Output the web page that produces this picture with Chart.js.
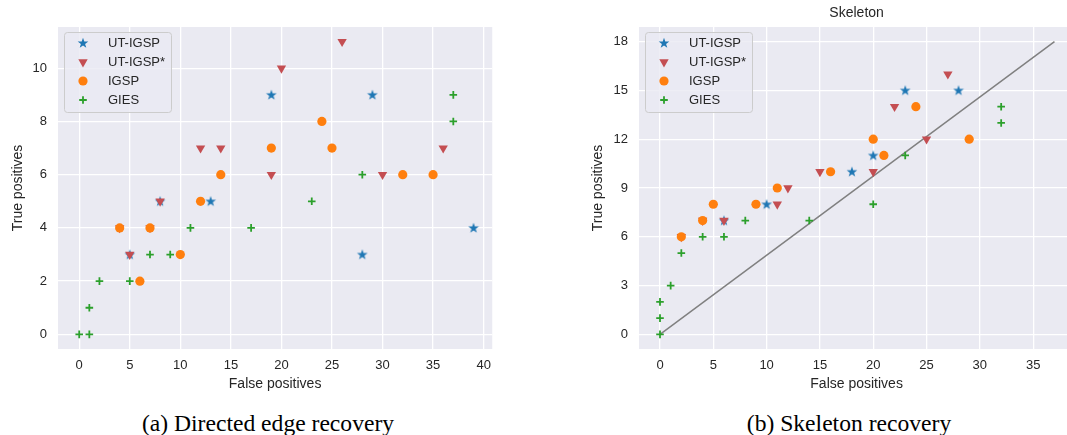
<!DOCTYPE html>
<html>
<head>
<meta charset="utf-8">
<script src="https://cdn.jsdelivr.net/npm/chart.js@4/dist/chart.umd.min.js"></script>
<style>
  html, body { margin: 0; padding: 0; background: #fff; overflow: hidden; }
  body { width: 1067px; height: 435px; position: relative; }
  .panel { position: absolute; top: 0; }
  .caption {
    position: absolute; top: 409px; line-height: 28px;
    font-family: "Liberation Serif", "Times New Roman", serif; font-size: 23.6px;
    color: #000; text-align: center; white-space: nowrap;
  }
</style>
</head>
<body>
<canvas id="chart-directed" class="panel" width="500" height="400" style="left:0"></canvas>
<canvas id="chart-skeleton" class="panel" width="500" height="400" style="left:580px"></canvas>
<div class="caption" style="left:0;width:536px">(a) Directed edge recovery</div>
<div class="caption" style="left:600px;width:498px">(b) Skeleton recovery</div>
<script>
const seriesNames = ['UT-IGSP', 'UT-IGSP*', 'IGSP', 'GIES'];
const seriesColors = ['#1f77b4', '#c44e52', '#ff7f0e', '#2ca02c'];

// (a) directed edges, [false positives, true positives]
const dirUtIgsp = [[5, 3], [8, 5], [13, 5], [19, 9], [28, 3], [29, 9], [39, 4]];
const dirUtIgspStar = [[4, 4], [5, 3], [7, 4], [8, 5], [12, 7], [14, 7], [19, 6], [20, 10], [26, 11], [30, 6], [36, 7]];
const dirIgsp = [[4, 4], [6, 2], [7, 4], [10, 3], [12, 5], [14, 6], [19, 7], [24, 8], [25, 7], [32, 6], [35, 6]];
const dirGies = [[0, 0], [1, 0], [1, 1], [2, 2], [5, 2], [7, 3], [9, 3], [11, 4], [17, 4], [23, 5], [28, 6], [37, 8], [37, 9]];

// (b) skeleton
const skelUtIgsp = [[6, 7], [10, 8], [18, 10], [20, 11], [23, 15], [28, 15]];
const skelUtIgspStar = [[2, 6], [4, 7], [6, 7], [11, 8], [12, 9], [15, 10], [20, 10], [22, 14], [25, 12], [27, 16]];
const skelIgsp = [[2, 6], [4, 7], [5, 8], [9, 8], [11, 9], [16, 10], [20, 12], [21, 11], [24, 14], [29, 12]];
const skelGies = [[0, 0], [0, 1], [0, 2], [1, 3], [2, 5], [4, 6], [6, 6], [8, 7], [14, 7], [20, 8], [23, 11], [32, 13], [32, 14]];
const skelDiagonal = [[0, 0], [37, 18]];

const dirXTicks = [0, 5, 10, 15, 20, 25, 30, 35, 40];
const dirYTicks = [0, 2, 4, 6, 8, 10];
const skelXTicks = [0, 5, 10, 15, 20, 25, 30, 35];
const skelYTicks = [0, 3, 6, 9, 12, 15, 18];

const FONT = "'Liberation Sans', Arial, sans-serif";
const TEXT = '#262626';
Chart.defaults.font.family = FONT;

// matplotlib-like filled star marker
function starImage(color) {
    const c = document.createElement('canvas');
    c.width = 12; c.height = 12;
    const g = c.getContext('2d');
    g.fillStyle = color;
    g.beginPath();
    for (let i = 0; i < 10; i++) {
        const r = i % 2 === 0 ? 5.6 : 2.2;
        const a = -Math.PI / 2 + i * Math.PI / 5;
        const px = 6 + r * Math.cos(a), py = 6.3 + r * Math.sin(a);
        if (i === 0) g.moveTo(px, py); else g.lineTo(px, py);
    }
    g.closePath();
    g.fill();
    return c;
}

const markerStyles = [
    { pointStyle: starImage(seriesColors[0]), pointRadius: 5, pointBorderWidth: 0 },
    { pointStyle: 'triangle', pointRotation: 180, pointRadius: 5.4, pointBorderWidth: 0 },
    { pointStyle: 'circle', pointRadius: 4.6, pointBorderWidth: 0 },
    { pointStyle: 'cross', pointRadius: 3.8, pointBorderWidth: 1.8 }
];

function makeDatasets(groups) {
    return groups.map((pts, i) => Object.assign({
        label: seriesNames[i],
        data: pts.map(p => ({ x: p[0], y: p[1] })),
        order: 4 - i,
        pointBackgroundColor: seriesColors[i],
        pointBorderColor: seriesColors[i],
        showLine: false
    }, markerStyles[i]));
}

const plotBackground = {
    id: 'plotBackground',
    beforeDraw(chart) {
        const { ctx, chartArea: a } = chart;
        ctx.save();
        ctx.fillStyle = '#eaeaf2';
        ctx.fillRect(a.left, a.top, a.right - a.left, a.bottom - a.top);
        ctx.restore();
    }
};

// legend box in the upper-left corner of the plot
const legendBox = {
    id: 'legendBox',
    afterDatasetsDraw(chart) {
        const { ctx, chartArea } = chart;
        const x0 = chartArea.left + 6, y0 = chartArea.top + 5;
        ctx.save();
        ctx.beginPath();
        ctx.roundRect(x0 + 0.5, y0 + 0.5, 107, 80, 3);
        ctx.fillStyle = 'rgba(234,234,242,0.8)';
        ctx.fill();
        ctx.strokeStyle = '#cccccc';
        ctx.lineWidth = 1;
        ctx.stroke();

        const items = chart.data.datasets.filter(ds => ds.label);
        items.forEach((ds, i) => {
            const my = chartArea.top + 16 + i * 19;
            const mx = chartArea.left + 25;
            ctx.fillStyle = ds.pointBackgroundColor;
            ctx.strokeStyle = ds.pointBorderColor;
            ctx.lineWidth = ds.pointBorderWidth;
            Chart.helpers.drawPoint(ctx, {
                pointStyle: ds.pointStyle,
                rotation: ds.pointRotation || 0,
                radius: ds.pointRadius,
                borderWidth: ds.pointBorderWidth
            }, mx, my);
            ctx.fillStyle = TEXT;
            ctx.font = '13px ' + FONT;
            ctx.textBaseline = 'middle';
            ctx.textAlign = 'left';
            ctx.fillText(ds.label, chartArea.left + 50, my);
        });
        ctx.restore();
    }
};

function axes(xMin, xMax, xTicks, yMin, yMax, yTicks, yWidth) {
    const tickFont = { family: FONT, size: 13 };
    const titleFont = { family: FONT, size: 14 };
    const grid = { color: '#ffffff', lineWidth: 1.3, drawTicks: false };
    return {
        x: {
            type: 'linear', min: xMin, max: xMax,
            afterBuildTicks: s => { s.ticks = xTicks.map(v => ({ value: v })); },
            afterFit: s => { s.height = 51; },
            grid: grid,
            border: { display: false },
            ticks: { font: tickFont, color: TEXT, padding: 9, maxRotation: 0, autoSkip: false },
            title: { display: true, text: 'False positives', font: titleFont, color: TEXT, padding: { top: 0, bottom: 7.6 } }
        },
        y: {
            type: 'linear', min: yMin, max: yMax,
            afterBuildTicks: s => { s.ticks = yTicks.map(v => ({ value: v })); },
            afterFit: s => { s.width = yWidth; },
            grid: grid,
            border: { display: false },
            ticks: { font: tickFont, color: TEXT, padding: 11, autoSkip: false },
            title: { display: true, text: 'True positives', font: titleFont, color: TEXT, padding: { top: 9.6, bottom: 0 } }
        }
    };
}

new Chart(document.getElementById('chart-directed').getContext('2d'), {
    type: 'scatter',
    data: { datasets: makeDatasets([dirUtIgsp, dirUtIgspStar, dirIgsp, dirGies]) },
    options: {
        responsive: false,
        animation: false,
        layout: { padding: { top: 27, right: 7, left: 0, bottom: 0 } },
        scales: axes(-2.1, 40.85, dirXTicks, -0.55, 11.55, dirYTicks, 58),
        plugins: { legend: { display: false }, tooltip: { enabled: false } }
    },
    plugins: [plotBackground, legendBox]
});

const skelSets = makeDatasets([skelUtIgsp, skelUtIgspStar, skelIgsp, skelGies]);
skelSets.push({
    label: '',
    data: skelDiagonal.map(p => ({ x: p[0], y: p[1] })),
    showLine: true,
    borderColor: '#808080',
    borderWidth: 1.5,
    pointRadius: 0,
    order: 5
});

new Chart(document.getElementById('chart-skeleton').getContext('2d'), {
    type: 'scatter',
    data: { datasets: skelSets },
    options: {
        responsive: false,
        animation: false,
        layout: { padding: { top: 0, right: 5.4, left: 0, bottom: 0 } },
        scales: axes(-1.97, 38.85, skelXTicks, -0.9, 18.9, skelYTicks, 59),
        plugins: {
            legend: { display: false },
            tooltip: { enabled: false },
            title: {
                display: true, text: 'Skeleton', fullSize: false,
                font: { family: FONT, size: 14, weight: 'normal' }, color: TEXT,
                padding: { top: 4.6, bottom: 5.6 }
            }
        }
    },
    plugins: [plotBackground, legendBox]
});
</script>
</body>
</html>
